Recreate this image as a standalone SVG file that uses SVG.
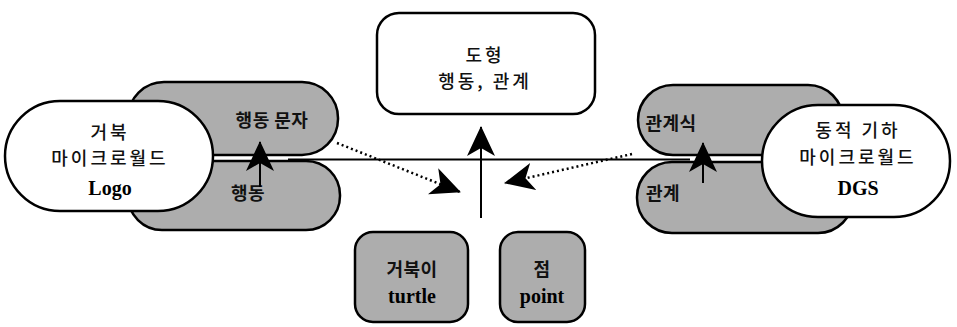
<svg xmlns="http://www.w3.org/2000/svg" width="957" height="327" viewBox="0 0 957 327">
<style>
.gray{fill:#adadad;stroke:#000;stroke-width:2.5}
.white{fill:#fff;stroke:#000;stroke-width:2.5}
.kr{font-family:"Noto Sans CJK KR","Noto Sans",sans-serif;font-size:18px;font-weight:500;fill:#111;text-anchor:middle;letter-spacing:3px}
.krg{font-family:"Noto Sans CJK KR","Noto Sans",sans-serif;font-size:18px;font-weight:bold;fill:#111;text-anchor:middle;letter-spacing:0.5px}
.lat{font-family:"Liberation Serif",serif;font-weight:bold;font-size:20px;fill:#000;text-anchor:middle}
.line{stroke:#000;stroke-width:2;fill:none}
.dot{stroke:#000;stroke-width:2.5;fill:none;stroke-dasharray:2 3}
</style>
<defs>
<marker id="head" viewBox="0 0 30 30" refX="29" refY="15" markerWidth="30" markerHeight="30" markerUnits="userSpaceOnUse" orient="auto">
<path d="M30,15 L0,1 L8,15 L0,29 Z" fill="#000"/>
</marker>
</defs>
<g id="logo-side">
<rect class="gray" x="128" y="82" width="210" height="73" rx="36"/>
<rect class="gray" x="128" y="161" width="212" height="69" rx="34"/>
<text class="krg" x="272" y="127">행동 문자</text>
<text class="krg" x="248" y="200">행동</text>
</g>
<g id="dgs-side">
<rect class="gray" x="638" y="85" width="205" height="70" rx="35"/>
<rect class="gray" x="637" y="162" width="216" height="71" rx="35"/>
<text class="krg" x="671" y="130">관계식</text>
<text class="krg" x="663" y="200">관계</text>
</g>
<g id="logo">
<rect class="white" x="5" y="101" width="208" height="110" rx="55"/>
<text class="kr" x="110" y="139">거북</text>
<text class="kr" x="110" y="165">마이크로월드</text>
<text class="lat" x="110" y="195">Logo</text>
</g>
<g id="dgs">
<rect class="white" x="762" y="105" width="188" height="112" rx="56"/>
<text class="kr" x="858" y="137">동적 기하</text>
<text class="kr" x="858" y="164">마이크로월드</text>
<text class="lat" x="858" y="195">DGS</text>
</g>
<g id="shape">
<rect class="white" x="377" y="13" width="218" height="101" rx="22"/>
<text class="kr" x="485" y="62">도형</text>
<text class="kr" x="485" y="88">행동, 관계</text>
</g>
<g id="turtle">
<rect class="gray" x="355" y="232" width="113" height="90" rx="18"/>
<text class="krg" x="412" y="276">거북이</text>
<text class="lat" x="412" y="303">turtle</text>
</g>
<g id="point">
<rect class="gray" x="500" y="232" width="85" height="90" rx="18"/>
<text class="krg" x="542" y="276">점</text>
<text class="lat" x="542" y="303">point</text>
</g>
<g id="connectors">
<line class="line" x1="288" y1="159.5" x2="690" y2="159.5"/>
<line class="line" x1="260" y1="187" x2="260" y2="142" marker-end="url(#head)"/>
<line class="line" x1="703" y1="183" x2="703" y2="143" marker-end="url(#head)"/>
<line class="line" x1="481" y1="218" x2="481" y2="127" marker-end="url(#head)"/>
<line class="dot" x1="337" y1="143" x2="460" y2="192" marker-end="url(#head)"/>
<line class="dot" x1="632" y1="154" x2="505" y2="183" marker-end="url(#head)"/>
</g>
</svg>
